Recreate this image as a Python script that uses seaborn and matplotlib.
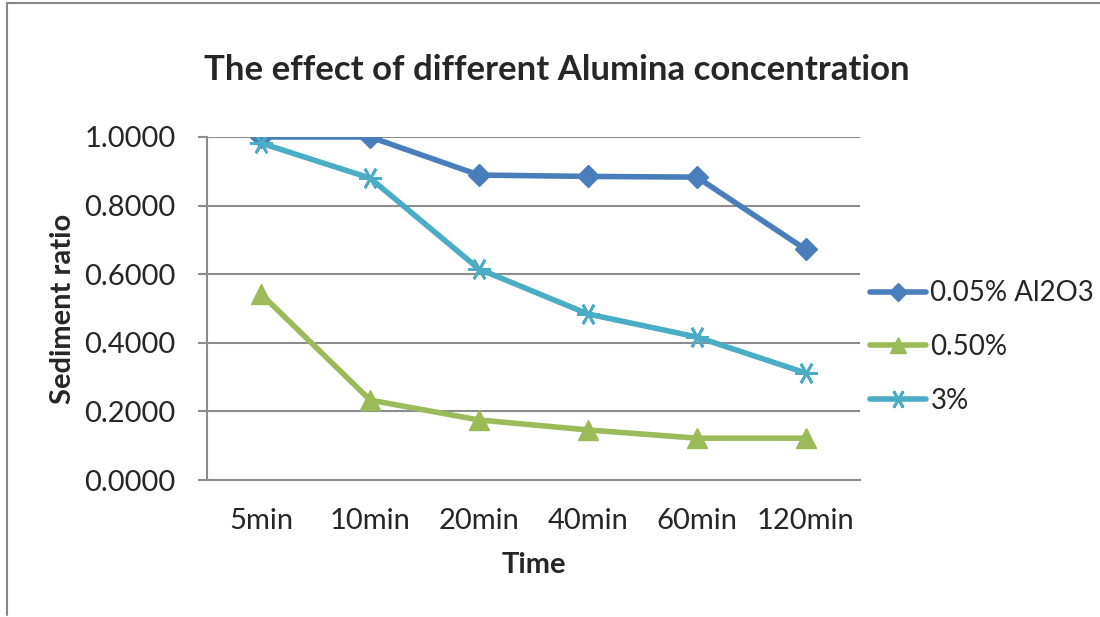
import numpy as np
import pandas as pd
import matplotlib
matplotlib.use("Agg")
import matplotlib.pyplot as plt
from matplotlib.lines import Line2D
import seaborn as sns

# data
times = ["5min", "10min", "20min", "40min", "60min", "120min"]
al_005 = [1.000, 1.000, 0.889, 0.885, 0.883, 0.672]
al_050 = [0.542, 0.233, 0.175, 0.146, 0.122, 0.122]
al_3 = [0.982, 0.880, 0.615, 0.484, 0.417, 0.312]
labels = ["0.05% Al2O3", "0.50%", "3%"]

colors = ["#4A7EBB", "#9BBB59", "#4BACC6"]
markers = ["D", "^", (6, 2, 90)]
msizes = [11, 14, 16]

sns.set_style("white")
plt.rcParams["font.family"] = ["Lato", "DejaVu Sans"]

fig = plt.figure(figsize=(11, 6.17), dpi=100)
ax = fig.add_axes([0.188, 0.222, 0.594, 0.556])

x = np.arange(len(times))
for vals, lab, c, m, ms in zip([al_005, al_050, al_3], labels, colors, markers, msizes):
    sns.lineplot(x=x, y=vals, ax=ax, color=c, marker=m, markersize=ms,
                 markeredgecolor=c, markeredgewidth=2 if m == markers[2] else 1,
                 linewidth=4, label=lab, sort=False)

ax.set_xlim(-0.5, 5.5)
ax.set_ylim(0, 1.0)
ax.set_xticks(x)
ax.set_xticklabels(times)
ax.set_yticks(np.arange(0, 1.01, 0.2))
ax.set_yticklabels([f"{v:.4f}" for v in np.arange(0, 1.01, 0.2)])
ax.grid(axis="y", color="#8C8C8C", linewidth=1.5)
ax.set_axisbelow(True)
for s in ["top", "right"]:
    ax.spines[s].set_visible(False)
for s in ["left", "bottom"]:
    ax.spines[s].set_color("#8C8C8C")
    ax.spines[s].set_linewidth(1.5)
ax.tick_params(axis="y", length=6.5, width=1.5, color="#8C8C8C", direction="out",
               labelsize=21, pad=16, left=True)
ax.tick_params(axis="x", length=0, labelsize=21, pad=20)

ax.set_xlabel("Time", fontsize=21, fontweight="bold", labelpad=13)
ax.set_ylabel("Sediment ratio", fontsize=21, fontweight="bold", labelpad=6)
fig.text(0.506, 0.887, "The effect of different Alumina concentration",
         ha="center", va="center", fontsize=25, fontweight="bold")

ax.get_legend().remove()
handles, labs = ax.get_legend_handles_labels()
fig.legend(handles, labs, loc="center left", bbox_to_anchor=(0.791, 0.4376),
           frameon=False, fontsize=20, handlelength=2.0, handletextpad=0.17,
           labelspacing=1.0, markerscale=0.85, borderpad=0, borderaxespad=0)

# outer chart border (top and left edges only visible)
fig.add_artist(Line2D([7 / 1100, 1.0], [1 - 3 / 617, 1 - 3 / 617],
                      transform=fig.transFigure, color="#888888", linewidth=1.5))
fig.add_artist(Line2D([7 / 1100, 7 / 1100], [1 - 3 / 617, 1 - 615 / 617],
                      transform=fig.transFigure, color="#888888", linewidth=1.5))

fig.savefig("out.png", dpi=100)
